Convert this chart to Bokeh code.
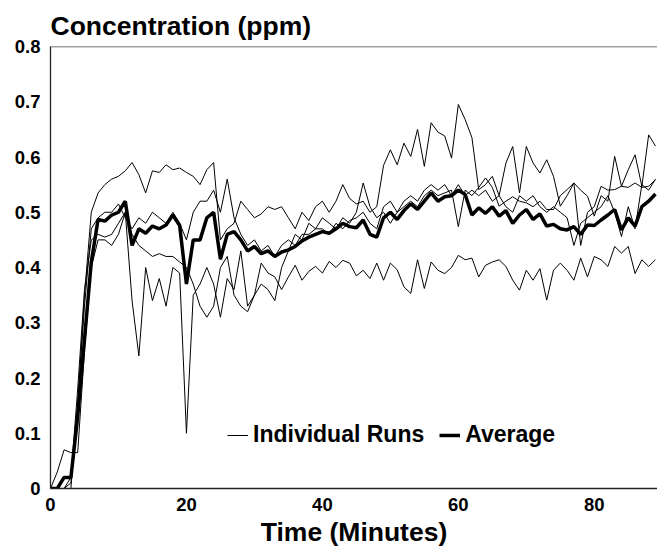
from bokeh.plotting import figure
from bokeh.models import Range1d, FixedTicker, Span, Legend, LegendItem
from bokeh.embed import file_html
from bokeh.resources import INLINE

# ---------------- data ----------------
time_min = list(range(90))

average = [0.0, 0.0, 0.02, 0.02, 0.13, 0.27, 0.41, 0.487, 0.484, 0.495,
           0.50, 0.52, 0.44, 0.47, 0.462, 0.475, 0.47, 0.477, 0.495, 0.476,
           0.37, 0.45, 0.45, 0.49, 0.50, 0.415, 0.46, 0.465, 0.45, 0.43,
           0.438, 0.425, 0.43, 0.42, 0.428, 0.432, 0.438, 0.448, 0.455, 0.46,
           0.465, 0.462, 0.47, 0.48, 0.474, 0.472, 0.486, 0.46, 0.455, 0.49,
           0.50, 0.487, 0.503, 0.515, 0.505, 0.52, 0.535, 0.52, 0.528, 0.53,
           0.54, 0.532, 0.495, 0.508, 0.498, 0.51, 0.493, 0.503, 0.48, 0.495,
           0.505, 0.487, 0.497, 0.475, 0.478, 0.47, 0.468, 0.474, 0.46, 0.477,
           0.476, 0.486, 0.495, 0.505, 0.468, 0.49, 0.475, 0.51, 0.52, 0.533]

run_a = [0.0, 0.0, 0.0, 0.0, 0.15, 0.35, 0.50, 0.535, 0.55, 0.56,
         0.565, 0.575, 0.59, 0.568, 0.535, 0.575, 0.572, 0.586, 0.577, 0.58,
         0.572, 0.565, 0.55, 0.577, 0.59, 0.45, 0.47, 0.48, 0.52, 0.505,
         0.49, 0.497, 0.51, 0.505, 0.51, 0.49, 0.47, 0.50, 0.485, 0.51,
         0.52, 0.50, 0.52, 0.55, 0.525, 0.515, 0.52, 0.50, 0.51, 0.585,
         0.613, 0.586, 0.625, 0.601, 0.65, 0.583, 0.662, 0.645, 0.638, 0.598,
         0.695, 0.668, 0.635, 0.541, 0.55, 0.565, 0.53, 0.589, 0.619, 0.535,
         0.619, 0.589, 0.571, 0.595, 0.565, 0.511, 0.53, 0.553, 0.54, 0.529,
         0.493, 0.53, 0.52, 0.601, 0.547, 0.577, 0.604, 0.547, 0.64, 0.62]

run_b = [0.0, 0.0, 0.0, 0.01, 0.15, 0.33, 0.47, 0.49, 0.50, 0.50,
         0.515, 0.49, 0.47, 0.49, 0.48, 0.50, 0.49, 0.48, 0.50, 0.48,
         0.45, 0.50, 0.52, 0.52, 0.54, 0.50, 0.56, 0.49, 0.46, 0.44,
         0.45, 0.43, 0.44, 0.42, 0.44, 0.45, 0.44, 0.46, 0.46, 0.47,
         0.47, 0.46, 0.48, 0.47, 0.485, 0.49, 0.50, 0.48, 0.47, 0.51,
         0.52, 0.50, 0.52, 0.53, 0.52, 0.54, 0.55, 0.54, 0.55, 0.53,
         0.55, 0.53, 0.54, 0.53, 0.54, 0.52, 0.53, 0.51, 0.50, 0.53,
         0.52, 0.53, 0.51, 0.50, 0.51, 0.50, 0.49, 0.44, 0.48, 0.49,
         0.50, 0.51, 0.53, 0.50, 0.456, 0.51, 0.47, 0.55, 0.54, 0.56]

run_c = [0.0, 0.03, 0.07, 0.065, 0.065, 0.25, 0.40, 0.45, 0.45, 0.44,
         0.46, 0.50, 0.46, 0.44, 0.43, 0.42, 0.425, 0.42, 0.42, 0.41,
         0.40, 0.37, 0.33, 0.31, 0.33, 0.40, 0.42, 0.35, 0.33, 0.32,
         0.35, 0.37, 0.36, 0.34, 0.40, 0.43, 0.46, 0.45, 0.48, 0.47,
         0.49, 0.48, 0.47, 0.49, 0.48, 0.50, 0.553, 0.51, 0.49, 0.50,
         0.48, 0.50, 0.51, 0.52, 0.51, 0.53, 0.54, 0.53, 0.535, 0.54,
         0.474, 0.54, 0.53, 0.545, 0.562, 0.545, 0.511, 0.52, 0.528, 0.52,
         0.517, 0.51, 0.52, 0.505, 0.505, 0.53, 0.541, 0.553, 0.44, 0.50,
         0.51, 0.547, 0.54, 0.541, 0.547, 0.545, 0.553, 0.545, 0.547, 0.559]

run_d = [0.0, 0.0, 0.0, 0.02, 0.18, 0.36, 0.45, 0.46, 0.455, 0.46,
         0.48, 0.50, 0.34, 0.24, 0.40, 0.34, 0.38, 0.33, 0.40, 0.39,
         0.10, 0.35, 0.37, 0.40, 0.37, 0.31, 0.38, 0.36, 0.43, 0.33,
         0.35, 0.408, 0.39, 0.383, 0.36, 0.383, 0.404, 0.377, 0.393, 0.402,
         0.39, 0.411, 0.40, 0.413, 0.408, 0.385, 0.395, 0.38, 0.408, 0.377,
         0.408, 0.396, 0.365, 0.353, 0.414, 0.362, 0.41, 0.395, 0.389, 0.40,
         0.422, 0.414, 0.417, 0.383, 0.404, 0.41, 0.414, 0.402, 0.377, 0.359,
         0.395, 0.377, 0.398, 0.341, 0.395, 0.408, 0.395, 0.377, 0.417, 0.383,
         0.42, 0.414, 0.402, 0.438, 0.426, 0.438, 0.389, 0.414, 0.402, 0.414]

runs = [run_a, run_b, run_c, run_d]

x_ticks = [0, 20, 40, 60, 80]
y_ticks = [0, 0.1, 0.2, 0.3, 0.4, 0.5, 0.6, 0.7, 0.8]
y_tick_labels = ["0", "0.1", "0.2", "0.3", "0.4", "0.5", "0.6", "0.7", "0.8"]

title_text = "Concentration (ppm)"
x_label = "Time (Minutes)"
legend_labels = ["Individual Runs", "Average"]

# ---------------- figure ----------------
FONT = "Liberation Sans"

p = figure(width=657, height=556, output_backend="svg", toolbar_location=None,
           x_range=Range1d(0, 89.3), y_range=Range1d(0, 0.8),
           min_border_left=50, min_border_right=0,
           min_border_top=46, min_border_bottom=68)

p.title.text = title_text
p.title.align = "left"
p.title.text_font = FONT
p.title.text_font_style = "bold"
p.title.text_font_size = "26.5px"
p.title.text_color = "black"
p.title.standoff = 11

p.xgrid.visible = False
p.ygrid.visible = False
p.outline_line_color = None
p.background_fill_color = "white"
p.border_fill_color = "white"

for ax in (p.xaxis, p.yaxis):
    ax.major_tick_line_color = None
    ax.minor_tick_line_color = None
    ax.major_tick_out = 0
    ax.major_tick_in = 0
    ax.minor_tick_out = 0
    ax.axis_line_color = "#222222"
    ax.axis_line_width = 1.3
    ax.major_label_text_font = FONT
    ax.major_label_text_font_style = "bold"
    ax.major_label_text_font_size = "18.5px"
    ax.major_label_text_color = "black"

p.xaxis.ticker = FixedTicker(ticks=x_ticks)
p.yaxis.ticker = FixedTicker(ticks=y_ticks)
p.yaxis.major_label_overrides = {t: l for t, l in zip(y_ticks, y_tick_labels)}
p.xaxis.major_label_standoff = 9
p.yaxis.major_label_standoff = 10

p.xaxis.axis_label = x_label
p.xaxis.axis_label_text_font = FONT
p.xaxis.axis_label_text_font_style = "bold"
p.xaxis.axis_label_text_font_size = "26.5px"
p.xaxis.axis_label_text_color = "black"
p.xaxis.axis_label_standoff = 3

p.add_layout(Span(location=0.8, dimension="width", line_color="#444444", line_width=1.5))

run_renderers = []
for r in runs:
    run_renderers.append(p.line(time_min, r, line_color="black", line_width=1))
avg_renderer = p.line(time_min, average, line_color="black", line_width=3.5)

legend = Legend(items=[LegendItem(label=legend_labels[0], renderers=[run_renderers[0]]),
                       LegendItem(label=legend_labels[1], renderers=[avg_renderer])],
                location=(177, 40), orientation="horizontal",
                glyph_width=21, glyph_height=20, label_standoff=5, spacing=15,
                padding=0, margin=0, border_line_color=None, background_fill_alpha=0,
                label_text_font=FONT, label_text_font_style="bold",
                label_text_font_size="23px", label_text_color="black")
p.add_layout(legend)

open("out.html", "w").write(file_html(p, INLINE))
